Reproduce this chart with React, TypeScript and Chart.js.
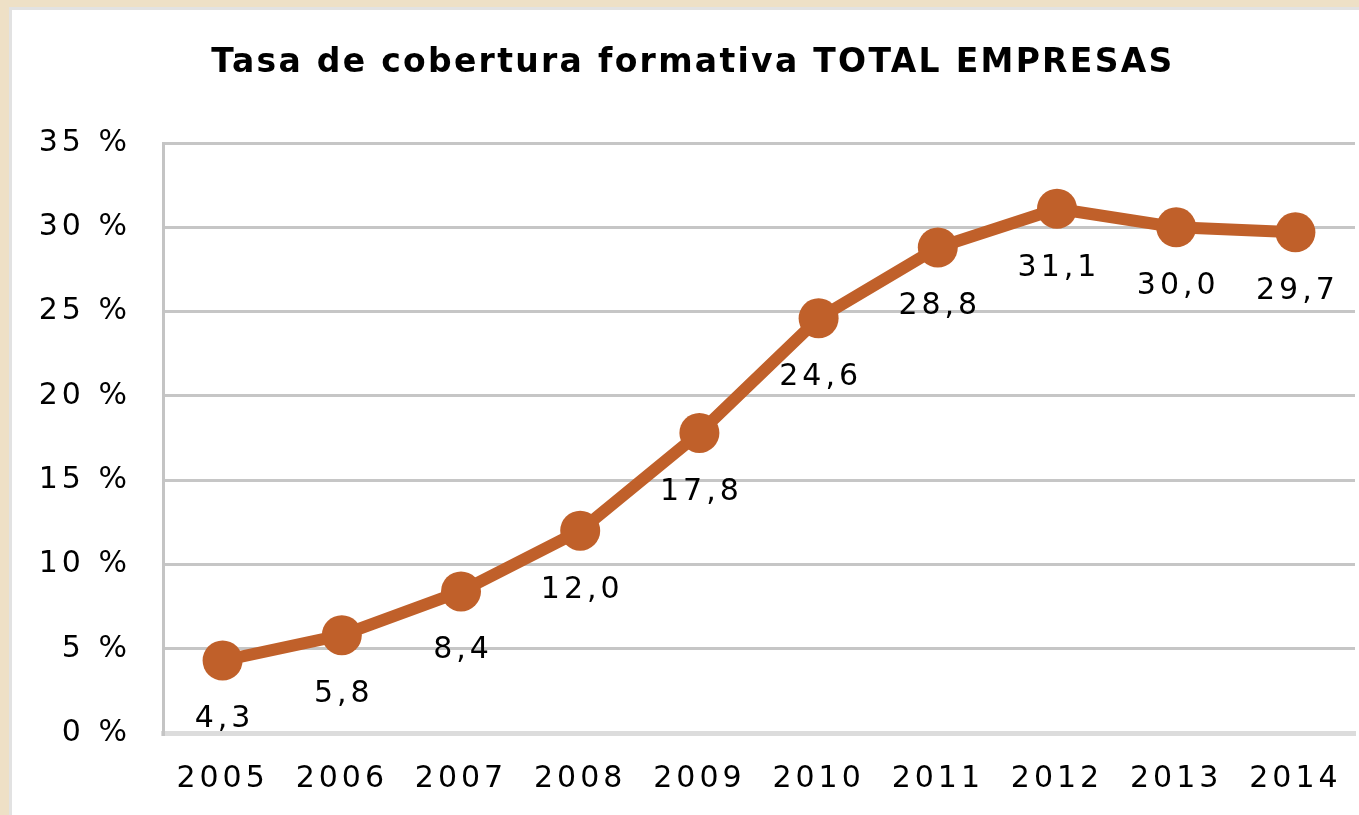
import React, { useEffect, useRef } from "react";
import { Chart, registerables } from "chart.js";

Chart.register(...registerables);

const TITLE = "Tasa de cobertura formativa TOTAL EMPRESAS";
const YEARS = ["2005", "2006", "2007", "2008", "2009", "2010", "2011", "2012", "2013", "2014"];
const RATES = [4.3, 5.8, 8.4, 12.0, 17.8, 24.6, 28.8, 31.1, 30.0, 29.7];
const Y_TICKS = [0, 5, 10, 15, 20, 25, 30, 35];

const LINE_COLOR = "#C0602A";
const FONT = "'DejaVu Sans', sans-serif";

const W = 1347;
const H = 805;

export default function App() {
  const ref = useRef<HTMLCanvasElement | null>(null);

  useEffect(() => {
    if (!ref.current) return;
    const spacing = {
      id: "spacing",
      beforeLayout(chart: any) {
        chart.ctx.letterSpacing = "4px";
      },
      beforeDraw(chart: any) {
        chart.ctx.letterSpacing = "4px";
      },
    };
    const extras = {
      id: "extras",
      afterDatasetsDraw(chart: any) {
        const ctx = chart.ctx;
        const meta = chart.getDatasetMeta(0);
        ctx.save();
        ctx.letterSpacing = "4px";
        ctx.font = `30px ${FONT}`;
        ctx.fillStyle = "#000";
        ctx.textAlign = "center";
        ctx.textBaseline = "middle";
        meta.data.forEach((pt: any, i: number) => {
          const txt = RATES[i].toFixed(1).replace(".", ",");
          ctx.fillText(txt, pt.x + 2, pt.y + 59);
        });
        ctx.restore();
        ctx.save();
        ctx.letterSpacing = "2.3px";
        ctx.font = `bold 33px ${FONT}`;
        ctx.fillStyle = "#000";
        ctx.textAlign = "center";
        ctx.textBaseline = "middle";
        ctx.fillText(TITLE, 681, 53);
        ctx.restore();
      },
    };
    const chart = new Chart(ref.current, {
      type: "line",
      data: {
        labels: YEARS,
        datasets: [
          {
            data: RATES,
            borderColor: LINE_COLOR,
            backgroundColor: LINE_COLOR,
            borderWidth: 12,
            pointRadius: 20,
            pointBackgroundColor: LINE_COLOR,
            pointBorderWidth: 0,
            tension: 0,
            clip: false,
          },
        ],
      },
      options: {
        animation: false,
        responsive: false,
        maintainAspectRatio: false,
        layout: { autoPadding: false, padding: { top: 133, right: 4, left: 0, bottom: 0 } },
        plugins: {
          legend: { display: false },
          tooltip: { enabled: false },
          title: { display: false },
        },
        scales: {
          x: {
            offset: true,
            grid: { display: false, drawTicks: false },
            border: { display: true, color: "#dcdcdc", width: 5 },
            ticks: {
              font: { family: FONT, size: 30 },
              color: "#000",
              padding: 28,
              maxRotation: 0,
            },
            afterFit(scale: any) {
              scale.height = 82;
              scale.paddingLeft = 0;
              scale.paddingRight = 0;
            },
          },
          y: {
            min: 0,
            max: 35,
            afterBuildTicks(scale: any) {
              scale.ticks = Y_TICKS.map((v) => ({ value: v }));
            },
            grid: {
              drawTicks: false,
              color: (c: any) => (c.tick && c.tick.value === 0 ? "#dcdcdc" : "#c6c6c6"),
              lineWidth: (c: any) => (c.tick && c.tick.value === 0 ? 5 : 3),
            },
            border: { display: true, color: "#c4c4c4", width: 3 },
            ticks: {
              font: { family: FONT, size: 30 },
              color: "#000",
              padding: 32,
              callback: (v: any) => `${v} %`,
            },
            afterFit(scale: any) {
              scale.width = 151;
              scale.paddingTop = 0;
              scale.paddingBottom = 0;
            },
          },
        },
      },
      plugins: [spacing, extras],
    });
    return () => chart.destroy();
  }, []);

  return (
    <div
      style={{
        position: "fixed",
        left: 0,
        top: 0,
        width: 1359,
        height: 815,
        background: "#eee0c6",
        overflow: "hidden",
      }}
    >
      <div
        style={{
          position: "absolute",
          left: 9,
          top: 7,
          width: 1350,
          height: 808,
          background: "#fff",
          borderLeft: "3px solid #e2e2e2",
          borderTop: "3px solid #e2e2e2",
          boxSizing: "border-box",
        }}
      >
        <canvas ref={ref} width={W} height={H} style={{ display: "block", width: W, height: H }} />
      </div>
    </div>
  );
}
